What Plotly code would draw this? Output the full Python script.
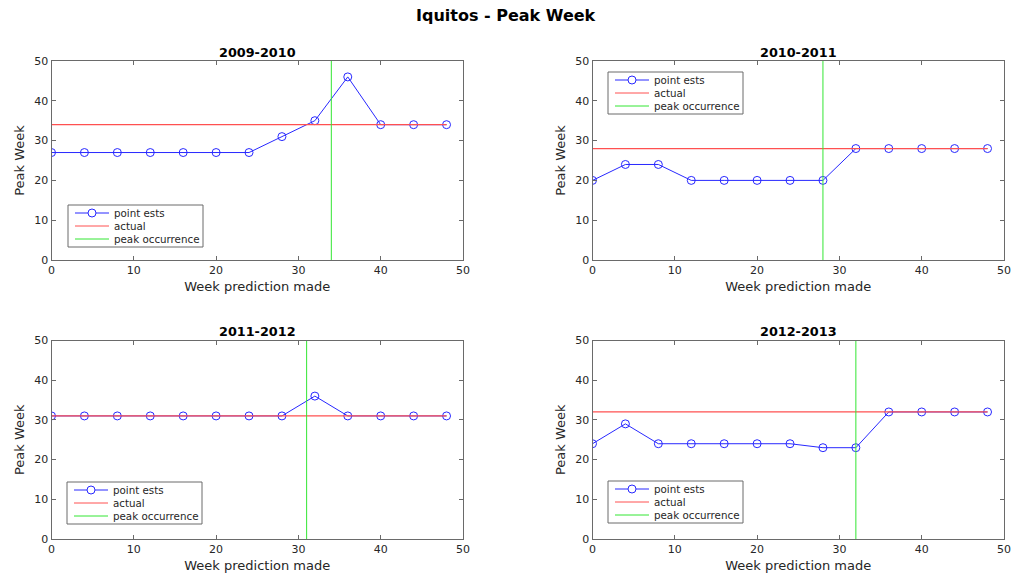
import plotly.graph_objects as go

weeks = [0, 4, 8, 12, 16, 20, 24, 28, 32, 36, 40, 44, 48]
seasons = ["2009-2010", "2010-2011", "2011-2012", "2012-2013"]
est_2009 = [27, 27, 27, 27, 27, 27, 27, 31, 35, 46, 34, 34, 34]
est_2010 = [20, 24, 24, 20, 20, 20, 20, 20, 28, 28, 28, 28, 28]
est_2011 = [31, 31, 31, 31, 31, 31, 31, 31, 36, 31, 31, 31, 31]
est_2012 = [24, 29, 24, 24, 24, 24, 24, 23, 23, 32, 32, 32, 32]
estimates = [est_2009, est_2010, est_2011, est_2012]
actual = [34, 28, 31, 32]
peak_week = [34, 28, 31, 32]
x_ticks = [0, 10, 20, 30, 40, 50]
y_ticks = [0, 10, 20, 30, 40, 50]
legend_labels = ["point ests", "actual", "peak occurrence"]

W, H = 1026, 577
# axes boxes in pixels (left, right, top, bottom)
boxes = [(51.5, 463, 61, 260), (592.5, 1004, 61, 260), (51.5, 463, 340.5, 539), (592.5, 1004, 340.5, 539)]
# legend boxes (left, top) pixels
legpos = [(68, 205), (608, 72), (67, 482), (608, 481)]

BLUE = "rgb(40,40,255)"
RED = "rgb(255,80,80)"
GREEN = "rgb(50,230,50)"
colors = [BLUE, RED, GREEN]

fig = go.Figure()
font = "DejaVu Sans, Liberation Sans, sans-serif"
axcol = "#262626"
linecol = "#6a6a6a"

def px(x):
    return x / W

def py(y):
    return 1 - y / H

annotations = []
shapes = []
for i in range(4):
    n = i + 1
    xa = "x" if n == 1 else f"x{n}"
    ya = "y" if n == 1 else f"y{n}"
    fig.add_trace(go.Scatter(x=weeks, y=estimates[i], mode="lines+markers", name=legend_labels[0],
                             line=dict(color=BLUE, width=1),
                             marker=dict(symbol="circle-open", size=8, color=BLUE, line=dict(width=1)),
                             xaxis=xa, yaxis=ya, showlegend=False))
    fig.add_trace(go.Scatter(x=[min(weeks), max(weeks)], y=[actual[i], actual[i]], mode="lines",
                             name=legend_labels[1], line=dict(color=RED, width=1.3),
                             xaxis=xa, yaxis=ya, showlegend=False))
    fig.add_trace(go.Scatter(x=[peak_week[i], peak_week[i]], y=[y_ticks[0], y_ticks[-1]], mode="lines",
                             name=legend_labels[2], line=dict(color=GREEN, width=1),
                             xaxis=xa, yaxis=ya, showlegend=False))
    l, r, t, b = boxes[i]
    axx = dict(domain=[px(l), px(r)], range=[0, 50], tickvals=x_ticks, ticks="inside", ticklen=4,
               showline=True, mirror="ticks", linecolor=linecol, linewidth=1, tickcolor=linecol,
               showgrid=False, zeroline=False, anchor=ya, automargin=False,
               title=dict(text="Week prediction made", font=dict(size=13, color=axcol), standoff=5),
               tickfont=dict(size=11, color=axcol))
    axy = dict(domain=[py(b), py(t)], range=[0, 50], tickvals=y_ticks, ticks="inside", ticklen=4,
               showline=True, mirror="ticks", linecolor=linecol, linewidth=1, tickcolor=linecol,
               showgrid=False, zeroline=False, anchor=xa, automargin=False,
               title=dict(text="Peak Week", font=dict(size=13, color=axcol), standoff=6),
               tickfont=dict(size=11, color=axcol))
    fig.layout[f"xaxis{'' if n == 1 else n}"] = axx
    fig.layout[f"yaxis{'' if n == 1 else n}"] = axy

    # manual legend
    lx, ly = legpos[i]
    shapes.append(dict(type="rect", xref="paper", yref="paper", x0=px(lx), x1=px(lx + 135),
                       y0=py(ly + 42), y1=py(ly), line=dict(color=linecol, width=1), fillcolor="white",
                       layer="above"))
    for k in range(3):
        ry = ly + 8 + 13 * k
        shapes.append(dict(type="line", xref="paper", yref="paper", x0=px(lx + 7), x1=px(lx + 41),
                           y0=py(ry), y1=py(ry), line=dict(color=colors[k], width=1), layer="above"))
        annotations.append(dict(text=legend_labels[k], x=px(lx + 43.5), y=py(ry), xref="paper", yref="paper",
                                xanchor="left", yanchor="middle", showarrow=False,
                                font=dict(size=10.3, color=axcol)))
    ry = ly + 8
    shapes.append(dict(type="circle", xref="paper", yref="paper", x0=px(lx + 24 - 4), x1=px(lx + 24 + 4),
                       y0=py(ry + 4), y1=py(ry - 4), line=dict(color=BLUE, width=1), fillcolor="white",
                       layer="above"))

    annotations.append(dict(text=f"<b>{seasons[i]}</b>", x=px((l + r) / 2), y=py(t - 9),
                            xref="paper", yref="paper", showarrow=False, xanchor="center", yanchor="middle",
                            font=dict(size=12.8, color="black")))

annotations.append(dict(text="<b>Iquitos - Peak Week</b>", x=px(506), y=py(15), xref="paper", yref="paper",
                        showarrow=False, xanchor="center", yanchor="middle", font=dict(size=16, color="black")))

fig.update_layout(width=W, height=H, margin=dict(l=0, r=0, t=0, b=0, pad=0, autoexpand=False),
                  plot_bgcolor="white", paper_bgcolor="white", font=dict(family=font),
                  annotations=annotations, shapes=shapes, showlegend=False)
fig.write_html("out.html", config={"displayModeBar": False},
               post_script="document.body.style.margin='0';document.body.style.overflow='hidden';")
